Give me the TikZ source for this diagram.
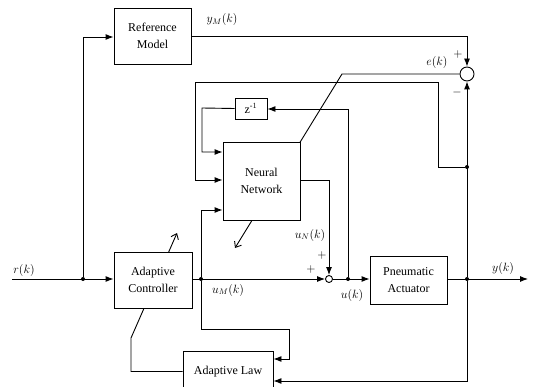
\documentclass[tikz,border=0pt]{standalone}
\usepackage{amsmath}
\usepackage{fontspec}
\setmainfont{Liberation Serif}
\usepackage{tikz}
\usetikzlibrary{arrows.meta,positioning,backgrounds}

\begin{document}
\begin{tikzpicture}[x=1pt,y=-1pt,line width=0.9pt,
        block/.style = {draw,fill=white,align=center,inner sep=0pt,
            font=\fontsize{12}{17}\selectfont},
        sumnode/.style = {circle,draw,fill=white,inner sep=0pt,minimum size=#1},
        dot/.style = {circle,fill,inner sep=0pt,minimum size=4pt},
        sig/.style = {-{Latex[length=8pt,width=6pt]}},
        tune/.style = {line width=0.9pt,-{Straight Barb[length=5pt,width=8pt]}},
        lbl/.style = {font=\fontsize{12}{14}\selectfont}]
            \useasboundingbox (0,0) rectangle (534,387);
            \clip (0,0) rectangle (534,387);

            \node [block,minimum width=77pt,minimum height=56pt] (refmodel) at (152.5,36) {Reference\\Model};
            \node [block,minimum width=78pt,minimum height=56pt] (ctrl) at (153,280) {Adaptive\\Controller};
            \node [block,minimum width=77pt,minimum height=78pt] (nn) at (261.5,181) {Neural\\Network};
            \node [block,minimum width=32pt,minimum height=21pt] (delay) at (251,108.5) {z$^{\text{-}1}$};
            \node [block,minimum width=77pt,minimum height=48pt] (plant) at (408.5,280) {Pneumatic\\Actuator};
            \node [block,minimum width=90pt,minimum height=41pt] (law) at (228,371.5) {Adaptive Law};

            \node [sumnode=14pt] (err) at (467,74) {};
            \node [sumnode=7pt] (add) at (329,279) {};

            \node [dot] (rdot) at (83,279) {};
            \node [dot] (umdot) at (201,279) {};
            \node [dot] (udot) at (348,279) {};
            \node [dot] (ydot) at (467,279) {};
            \node [dot] (fbdot) at (467,167) {};
            \coordinate (rin) at (12,279);
            \coordinate (yout) at (528,279);

            % main path
            \draw [sig] (rin) -- (ctrl.west |- rin);
            \draw [sig] (rdot) |- (refmodel.west |- 0,37);
            \draw [sig] (refmodel.east |- 0,36) -| (err.north);
            \draw [sig] (ctrl.east |- umdot) -- (add.west);
            \draw [sig] (add.east) -- (plant.west |- add);
            \draw [sig] (plant.east |- ydot) -- (yout);
            \draw [sig] (ydot) -- (err.south);

            % neural network inputs and output
            \draw [sig] (fbdot) -- (438,167) -- (438,82) -- (195,82) -- (195,180) -- (nn.west |- 0,180);
            \draw [sig] (udot) -- (348,109) -- (delay.east |- 0,109);
            \draw [sig] (delay.west) -- (202,108) -- (202,152) -- (nn.west |- 0,152);
            \draw [sig] (umdot) |- (nn.west |- 0,210);
            \draw [sig] (nn.east |- 0,180) -| (add.north);

            % adaptive law
            \draw [sig] (umdot) -- (201,329) -- (289,329) -- (289,359) -- (law.east |- 0,359);
            \draw [sig] (ydot) |- (law.east |- 0,381);

            % adjustment arrows
            \begin{pgfonlayer}{background}
                \draw [tune] (law.west) -- (131,371.5) -- (131,338) -- (177,233);
                \draw [tune] (err.west) -- (342,74) -- (235,248);
            \end{pgfonlayer}

            \node [lbl] (yml) at (222,20) {$y_M(k)$};
            \node [lbl] (el) at (437,63) {$e(k)$};
            \node [lbl] (eplus) at (458,55) {$+$};
            \node [lbl] (eminus) at (457,93) {$-$};
            \node [lbl] (rl) at (24,270) {$r(k)$};
            \node [lbl] (uml) at (228,290) {$u_M(k)$};
            \node [lbl] (unl) at (310,235) {$u_N(k)$};
            \node [lbl] (aplus1) at (322,255) {$+$};
            \node [lbl] (aplus2) at (311,269) {$+$};
            \node [lbl] (ul) at (352,295) {$u(k)$};
            \node [lbl] (yl) at (503,268) {$y(k)$};
        \end{tikzpicture}
\end{document}
